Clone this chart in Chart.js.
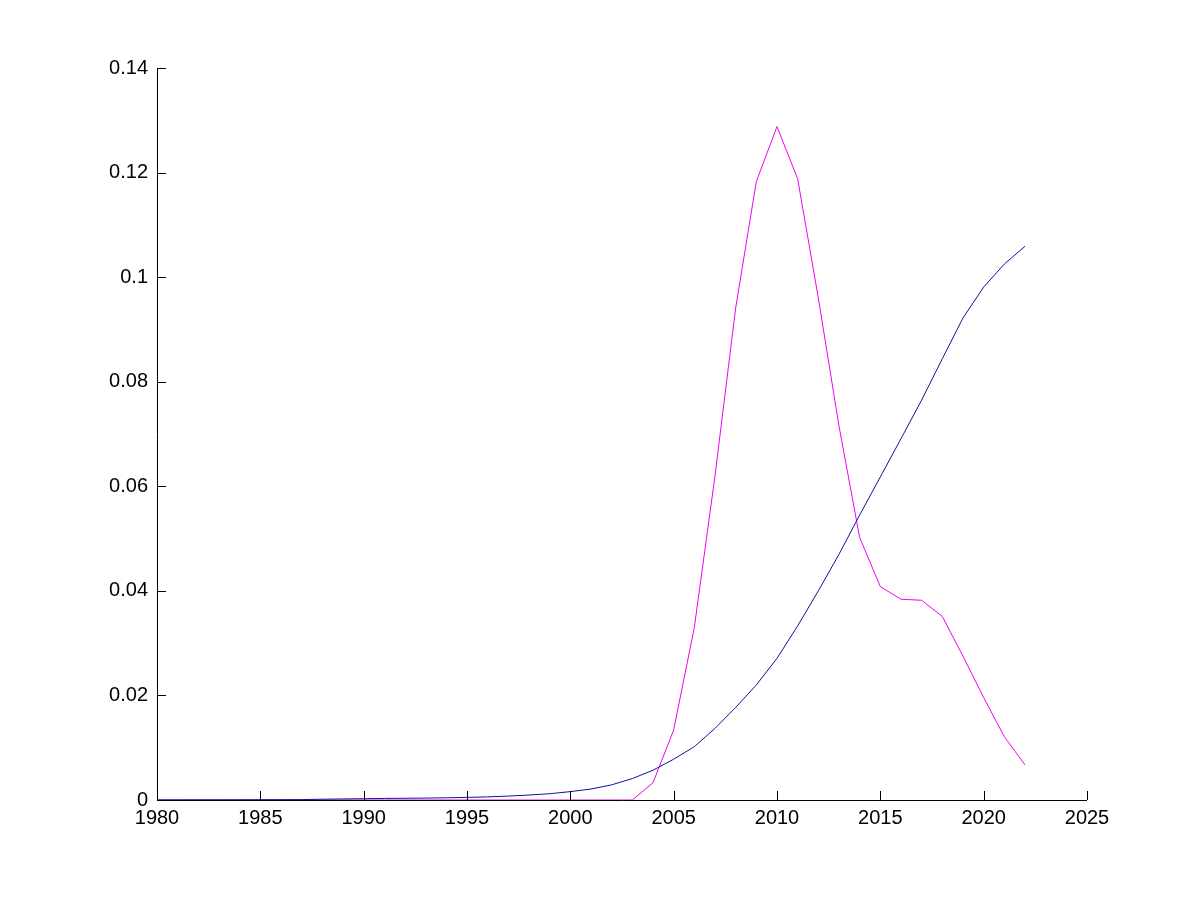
<!DOCTYPE html>
<html>
<head>
<meta charset="utf-8">
<script src="https://cdn.jsdelivr.net/npm/chart.js@4"></script>
<style>
  html, body { margin: 0; padding: 0; background: #fff; }
  #wrap { width: 1200px; height: 900px; }
</style>
</head>
<body>
<div id="wrap"><canvas id="c" width="1200" height="900"></canvas></div>
<script>
const years = [1980,1981,1982,1983,1984,1985,1986,1987,1988,1989,1990,1991,1992,1993,1994,1995,1996,1997,1998,1999,2000,2001,2002,2003,2004,2005,2006,2007,2008,2009,2010,2011,2012,2013,2014,2015,2016,2017,2018,2019,2020,2021,2022];
const blueSeries = [0.00002,0.00002,0.00003,0.00003,0.00004,0.00005,0.00006,0.00008,0.00015,0.0002,0.00025,0.0003,0.00033,0.00037,0.00042,0.0005,0.0006,0.00075,0.00095,0.0012,0.0016,0.0021,0.0029,0.0041,0.0057,0.0078,0.0102,0.0137,0.0177,0.0220,0.0271,0.0333,0.0400,0.0470,0.0545,0.0618,0.0691,0.0765,0.0844,0.0922,0.0981,0.1025,0.1059];
const magentaSeries = [0,0,0,0,0,0,0,0,0,0,0,0,0,0,0,0,0,0,0,0,0,0,0,0,0.0033,0.0134,0.033,0.062,0.0941,0.1183,0.1288,0.1188,0.096,0.0715,0.0502,0.0408,0.0384,0.0382,0.0351,0.0275,0.0196,0.0121,0.0067];
const xTicks = [1980,1985,1990,1995,2000,2005,2010,2015,2020,2025];
const yTicks = [0,0.02,0.04,0.06,0.08,0.1,0.12,0.14];

const FONT = "'Liberation Sans', Arial, sans-serif";

const innerTicks = {
  id: 'innerTicks',
  afterDraw(chart) {
    const ctx = chart.ctx;
    const xs = chart.scales.x, ys = chart.scales.y;
    const area = chart.chartArea;
    ctx.save();
    ctx.strokeStyle = '#000';
    ctx.lineWidth = 1;
    ctx.beginPath();
    ctx.moveTo(Math.round(area.left) + 0.5, Math.round(area.top));
    ctx.lineTo(Math.round(area.left) + 0.5, Math.round(area.bottom) + 0.5);
    ctx.lineTo(Math.round(area.right), Math.round(area.bottom) + 0.5);
    xTicks.forEach(v => {
      const px = Math.round(xs.getPixelForValue(v)) + 0.5;
      ctx.moveTo(px, Math.round(area.bottom));
      ctx.lineTo(px, Math.round(area.bottom) - 9);
    });
    yTicks.forEach(v => {
      const py = Math.round(ys.getPixelForValue(v)) + 0.5;
      ctx.moveTo(Math.round(area.left), py);
      ctx.lineTo(Math.round(area.left) + 9, py);
    });
    ctx.stroke();
    ctx.restore();
  }
};

new Chart(document.getElementById('c'), {
  type: 'line',
  data: {
    datasets: [
      {
        label: 'series 1',
        data: years.map((y, i) => ({ x: y, y: blueSeries[i] })),
        borderColor: '#10109a',
        borderWidth: 1,
        pointRadius: 0,
        tension: 0,
        fill: false
      },
      {
        label: 'series 2',
        data: years.map((y, i) => ({ x: y, y: magentaSeries[i] })),
        borderColor: '#ee00ee',
        borderWidth: 1,
        pointRadius: 0,
        tension: 0,
        fill: false
      }
    ]
  },
  options: {
    responsive: false,
    animation: false,
    events: [],
    layout: { padding: { left: 0, right: 113, top: 68, bottom: 0 } },
    plugins: { legend: { display: false }, tooltip: { enabled: false } },
    scales: {
      x: {
        type: 'linear',
        min: 1980, max: 2025,
        afterFit(scale) { scale.height = 100; },
        afterBuildTicks(scale) { scale.ticks = xTicks.map(v => ({ value: v })); },
        border: { display: false },
        grid: { display: false, drawTicks: false },
        ticks: {
          autoSkip: false,
          maxRotation: 0,
          padding: 6,
          color: '#000',
          font: { family: FONT, size: 20 },
          callback: v => String(v)
        }
      },
      y: {
        type: 'linear',
        min: 0, max: 0.14,
        afterFit(scale) { scale.width = 157; },
        afterBuildTicks(scale) { scale.ticks = yTicks.map(v => ({ value: v })); },
        border: { display: false },
        grid: { display: false, drawTicks: false },
        ticks: {
          autoSkip: false,
          padding: 9,
          color: '#000',
          font: { family: FONT, size: 20 },
          callback: v => String(Math.round(v * 100) / 100)
        }
      }
    }
  },
  plugins: [innerTicks]
});
</script>
</body>
</html>
